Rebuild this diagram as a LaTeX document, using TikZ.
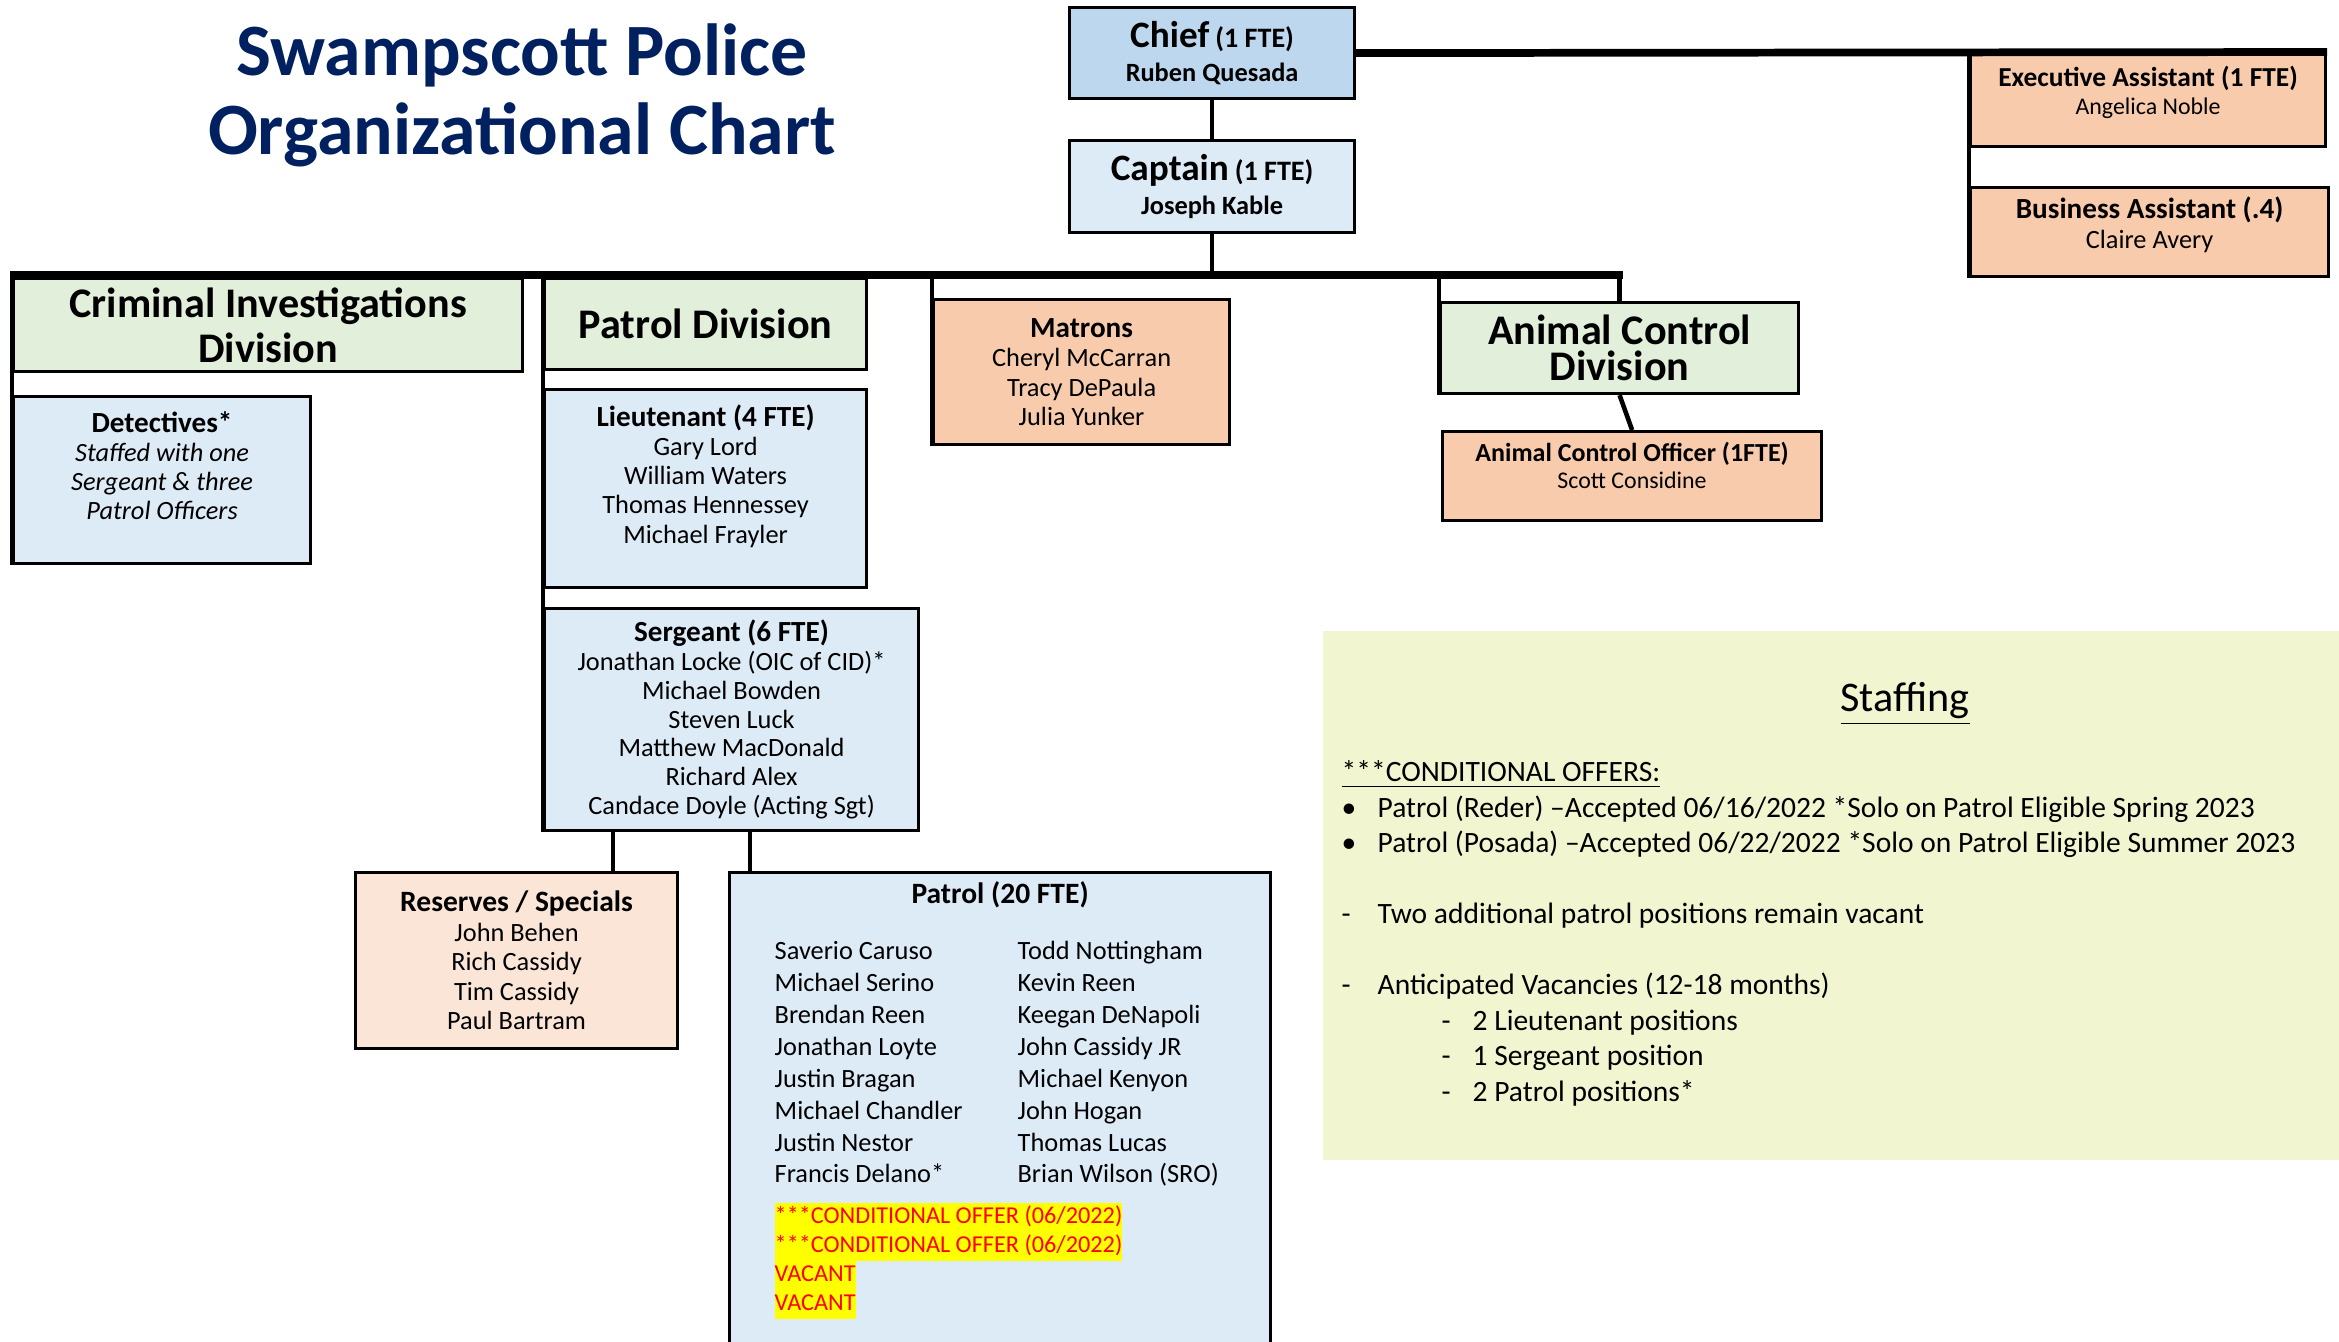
\documentclass[tikz,border=0pt]{standalone}
\usepackage{fontspec}
\setmainfont{Carlito}
\usepackage{tikz}

\definecolor{chiefblue}{HTML}{BDD7EE}
\definecolor{paleblue}{HTML}{DDEBF7}
\definecolor{divgreen}{HTML}{E2EFDA}
\definecolor{peach}{HTML}{F8CBAD}
\definecolor{lightpeach}{HTML}{FBE5D6}
\definecolor{staffbg}{HTML}{F1F5D0}
\definecolor{navy}{HTML}{002060}
\definecolor{hlyellow}{HTML}{FFFF00}

\newcommand{\hilite}[1]{{\setlength{\fboxsep}{0pt}\colorbox{hlyellow}{\strut #1}}}
\newcommand{\headfont}{\fontsize{8.3}{8.3}\selectfont\bfseries}

\begin{document}
\begin{tikzpicture}[x=0.1mm, y=-0.1mm]
    \tikzstyle{box}=[draw=black, line width=0.9pt, inner sep=2pt, align=center, anchor=north west]
    \tikzstyle{bluebox}=[box, fill=paleblue, font=\fontsize{7.5}{8.3}\selectfont]
    \tikzstyle{peachbox}=[box, fill=peach, font=\fontsize{7.5}{8.3}\selectfont]
    \tikzstyle{divbox}=[box, fill=divgreen, inner sep=1pt, font=\fontsize{12}{12.8}\selectfont\bfseries]
    \tikzstyle{link}=[draw, line width=1.3pt, black]
    \tikzstyle{bar}=[draw, line width=2.2pt, black]
    \useasboundingbox (0,0) rectangle (2339,1341);
    \clip (0,0) rectangle (2339,1341);

    % title
    \node[font=\fontsize{21}{22.5}\selectfont\bfseries, text=navy, align=center] (title) at (522,95) {Swampscott Police\\Organizational Chart};

    % command staff
    \node[box, fill=chiefblue, minimum width=28.5mm, minimum height=9.1mm, font=\fontsize{7.5}{9.6}\selectfont\bfseries] (chief) at (1068,6)
        {{\fontsize{10.6}{12}\selectfont Chief} {\fontsize{8}{9}\selectfont (1 FTE)}\\Ruben Quesada};
    \node[box, fill=paleblue, minimum width=28.5mm, minimum height=9.2mm, font=\fontsize{7.5}{9.6}\selectfont\bfseries] (captain) at (1068,139)
        {{\fontsize{10.6}{12}\selectfont Captain} {\fontsize{8}{9}\selectfont (1 FTE)}\\Joseph Kable};
    \node[peachbox, minimum width=35.5mm, minimum height=9.3mm, text depth=5.5pt, font=\fontsize{6.8}{8}\selectfont] (ea) at (1969,52)
        {{\fontsize{7.8}{8}\selectfont\bfseries Executive Assistant (1 FTE)}\\Angelica Noble};
    \node[peachbox, minimum width=35.8mm, minimum height=8.9mm, text depth=5.5pt, font=\fontsize{7.5}{8.5}\selectfont] (ba) at (1969,186)
        {{\fontsize{8.3}{8.5}\selectfont\bfseries Business Assistant (.4)}\\Claire Avery};

    % divisions
    \node[divbox, minimum width=50.9mm, minimum height=9.3mm] (cid) at (12,277) {Criminal Investigations\\Division};
    \node[divbox, minimum width=32.2mm, minimum height=9.1mm] (pd) at (543,277) {Patrol Division};
    \node[divbox, minimum width=35.8mm, minimum height=9.1mm, font=\fontsize{12}{10.3}\selectfont\bfseries] (acd) at (1439,301) {Animal Control\\Division};

    \node[bluebox, minimum width=29.7mm, minimum height=16.7mm] (det) at (12,395)
        {{\headfont Detectives*}\\\itshape Staffed with one\\\itshape Sergeant \& three\\\itshape Patrol Officers\\};
    \node[bluebox, minimum width=32.2mm, minimum height=19.8mm] (lt) at (543,388)
        {{\headfont Lieutenant (4 FTE)}\\Gary Lord\\William Waters\\Thomas Hennessey\\Michael Frayler\\};
    \node[bluebox, minimum width=37.4mm, minimum height=22.2mm, font=\fontsize{7.5}{8.2}\selectfont] (sgt) at (543,607)
        {{\headfont Sergeant (6 FTE)}\\Jonathan Locke (OIC of CID)*\\Michael Bowden\\Steven Luck\\Matthew MacDonald\\Richard Alex\\Candace Doyle (Acting Sgt)};
    \node[peachbox, minimum width=29.6mm, minimum height=14.5mm] (mat) at (932,298)
        {{\headfont Matrons}\\Cheryl McCarran\\Tracy DePaula\\Julia Yunker};
    \node[peachbox, minimum width=37.9mm, minimum height=8.9mm, text depth=6pt, font=\fontsize{6.8}{7.7}\selectfont] (aco) at (1441,430)
        {{\fontsize{7.4}{7.7}\selectfont\bfseries Animal Control Officer (1FTE)}\\Scott Considine};
    \node[box, fill=lightpeach, minimum width=32.2mm, minimum height=17.6mm, font=\fontsize{7.5}{8.4}\selectfont] (res) at (354,871)
        {{\fontsize{8.4}{8.4}\selectfont\bfseries Reserves / Specials}\\John Behen\\Rich Cassidy\\Tim Cassidy\\Paul Bartram};

    % patrol officers
    \node[box, fill=paleblue, minimum width=54.1mm, minimum height=50mm] (patrol) at (728,871) {};
    \node[font=\fontsize{8.4}{8.4}\selectfont\bfseries] (patroltitle) at ([yshift=-2.4mm]patrol.north) {Patrol (20 FTE)};
    \node[anchor=north west, inner sep=0pt, font=\fontsize{7.5}{9.1}\selectfont] (patrolnames) at (774,936)
        {\begin{tabular}{@{}p{24.3mm}@{}l@{}}
            Saverio Caruso & Todd Nottingham\\
            Michael Serino & Kevin Reen\\
            Brendan Reen & Keegan DeNapoli\\
            Jonathan Loyte & John Cassidy JR\\
            Justin Bragan & Michael Kenyon\\
            Michael Chandler & John Hogan\\
            Justin Nestor & Thomas Lucas\\
            Francis Delano* & Brian Wilson (SRO)
        \end{tabular}};
    \node[anchor=north west, inner sep=0pt, align=left, text=red, font=\fontsize{6.9}{8.25}\selectfont] (patrolopen) at (774,1202)
        {\hilite{***CONDITIONAL OFFER (06/2022)}\\\hilite{***CONDITIONAL OFFER (06/2022)}\\\hilite{VACANT}\\\hilite{VACANT}};

    % staffing notes
    \node[anchor=north west, fill=staffbg, minimum width=101.7mm, minimum height=52.9mm] (staff) at (1322,630) {};
    \node[font=\fontsize{12}{14}\selectfont] (stafftitle) at (1905,704) {\underline{Staffing}};
    \node[anchor=north west, inner sep=0pt, font=\fontsize{8.4}{10.1}\selectfont] (stafflist) at (1341,756)
        {\begin{tabular}{@{}p{3.6mm}@{}p{6.4mm}@{}p{3.1mm}@{}l@{}}
            \multicolumn{4}{@{}l@{}}{\underline{***CONDITIONAL OFFERS:}}\\
            \textbullet & \multicolumn{3}{@{}l@{}}{Patrol (Reder) –Accepted 06/16/2022 *Solo on Patrol Eligible Spring 2023}\\
            \textbullet & \multicolumn{3}{@{}l@{}}{Patrol (Posada) –Accepted 06/22/2022 *Solo on Patrol Eligible Summer 2023}\\
            & & & \\
            - & \multicolumn{3}{@{}l@{}}{Two additional patrol positions remain vacant}\\
            & & & \\
            - & \multicolumn{3}{@{}l@{}}{Anticipated Vacancies (12-18 months)}\\
            & & - & 2 Lieutenant positions\\
            & & - & 1 Sergeant position\\
            & & - & 2 Patrol positions*
        \end{tabular}};

    % connectors
    \coordinate (barL) at (10,275);
    \coordinate (barR) at (1623,275);
    \draw[link] (chief.south) -- (captain.north);
    \draw[bar] (chief.east) -- (ea.north east);
    \draw[link] (ea.north west) -- (ba.south west);
    \draw[link] (captain.south) -- (captain.south |- barL);
    \draw[bar] (barL) -- (barR);
    \draw[link] (cid.north west |- barL) -- (det.south west);
    \draw[link] (pd.north west |- barL) -- (sgt.south west);
    \draw[link] (mat.north west |- barL) -- (mat.south west);
    \draw[link] (acd.north west |- barL) -- (acd.south west);
    \draw[link] (acd.north |- barL) -- (acd.north);
    \draw[link] (acd.south) -- (aco.north);
    \draw[link] ([xshift=7mm]sgt.south west) -- ([xshift=7mm]sgt.south west |- res.north);
    \draw[link] ([xshift=20.7mm]sgt.south west) -- ([xshift=20.7mm]sgt.south west |- patrol.north);
\end{tikzpicture}
\end{document}
